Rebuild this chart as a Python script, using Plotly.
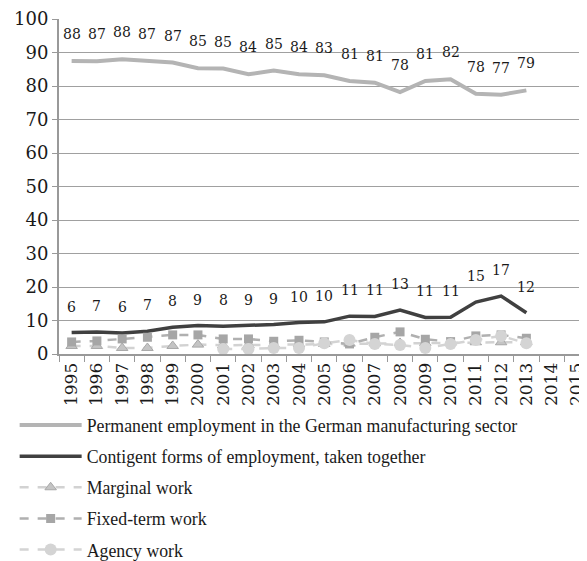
import plotly.graph_objects as go

years = [str(y) for y in range(1995, 2016)]
data_years = [str(y) for y in range(1995, 2014)]

permanent = [87.5, 87.4, 88.0, 87.4, 87.0, 85.3, 85.2, 83.5, 84.6, 83.5, 83.2, 81.5, 81.0, 78.2, 81.5, 82.0, 77.7, 77.4, 78.7]
contingent = [6.4, 6.6, 6.3, 6.8, 8.0, 8.5, 8.3, 8.5, 8.8, 9.4, 9.6, 11.3, 11.2, 13.1, 10.9, 11.0, 15.5, 17.3, 12.3]
marginal = [2.4, 2.4, 1.8, 1.8, 2.4, 2.8, 2.6, 2.7, 2.8, 2.9, 3.0, 3.1, 3.2, 3.3, 3.3, 3.4, 3.5, 3.5, 3.5]
fixed_term = [3.6, 3.9, 4.5, 5.0, 5.7, 5.7, 4.5, 4.5, 3.8, 4.1, 3.6, 3.0, 5.0, 6.6, 4.4, 3.7, 5.4, 5.7, 4.7]
agency_years = [str(y) for y in range(2001, 2014)]
agency = [1.5, 1.5, 1.8, 1.8, 3.2, 4.2, 3.0, 2.7, 1.8, 3.0, 4.2, 5.4, 3.2]

perm_labels = [88, 87, 88, 87, 87, 85, 85, 84, 85, 84, 83, 81, 81, 78, 81, 82, 78, 77, 79]
cont_labels = [6, 7, 6, 7, 8, 9, 8, 9, 9, 10, 10, 11, 11, 13, 11, 11, 15, 17, 12]

SERIF = "DejaVu Serif"
LEG_FONT = "Liberation Serif"

fig = go.Figure()
fig.add_trace(go.Scatter(x=data_years, y=permanent, mode="lines", name="Permanent employment in the German manufacturing sector",
                         line=dict(color="#b4b4b4", width=4), legendgroup="a"))
fig.add_trace(go.Scatter(x=data_years, y=contingent, mode="lines", name="Contigent forms of employment, taken together",
                         line=dict(color="#404040", width=3.5), legendgroup="b"))
fig.add_trace(go.Scatter(x=data_years, y=marginal, mode="lines+markers", name="Marginal work",
                         line=dict(color="#d2d2d2", width=2.5, dash="dash"),
                         marker=dict(symbol="triangle-up", size=10, color="#c4c4c4", line=dict(color="#a8a8a8", width=1)),
                         legendgroup="c"))
fig.add_trace(go.Scatter(x=data_years, y=fixed_term, mode="lines+markers", name="Fixed-term work",
                         line=dict(color="#b0b0b0", width=2.5, dash="dash"),
                         marker=dict(symbol="square", size=9, color="#a6a6a6"),
                         legendgroup="d"))
fig.add_trace(go.Scatter(x=agency_years, y=agency, mode="lines+markers", name="Agency work",
                         line=dict(color="#d4d4d4", width=2.5, dash="dash"),
                         marker=dict(symbol="circle", size=12, color="#d4d4d4"),
                         legendgroup="e"))

for i, (y, t) in enumerate(zip(permanent, perm_labels)):
    fig.add_annotation(x=i, y=y, text=str(t), showarrow=False, yshift=27,
                       font=dict(family=SERIF, size=14, color="#1a1a1a"))
for i, (y, t) in enumerate(zip(contingent, cont_labels)):
    fig.add_annotation(x=i, y=y, text=str(t), showarrow=False, yshift=26,
                       font=dict(family=SERIF, size=14, color="#1a1a1a"))

fig.update_layout(
    width=579, height=553,
    margin=dict(l=51, r=0, t=11, b=207, autoexpand=False),
    plot_bgcolor="white", paper_bgcolor="white",
    font=dict(family=SERIF, color="#1a1a1a"),
    showlegend=True,
    legend=dict(x=-0.084, y=-0.158, xanchor="left", yanchor="top",
                orientation="v",
                font=dict(family=LEG_FONT, size=17.8, color="#1a1a1a"),
                itemwidth=62, tracegroupgap=5, bgcolor="rgba(0,0,0,0)"),
    xaxis=dict(type="category", categoryorder="array", categoryarray=years,
               range=[-0.5, 20.4], tickangle=-90, tickson="boundaries",
               ticks="outside", ticklen=6, tickcolor="#999999", automargin=False,
               showline=True, linecolor="#999999", linewidth=2,
               showgrid=False, tickfont=dict(family=SERIF, size=17, color="#1a1a1a")),
    yaxis=dict(range=[0, 100], dtick=10, showgrid=True, gridcolor="#a0a0a0", gridwidth=1,
               showline=True, linecolor="#999999", linewidth=2, zeroline=False, automargin=False,
               ticks="outside", ticklen=5, tickcolor="#999999",
               tickfont=dict(family=SERIF, size=18, color="#1a1a1a")),
)

fig.write_html("out.html")
